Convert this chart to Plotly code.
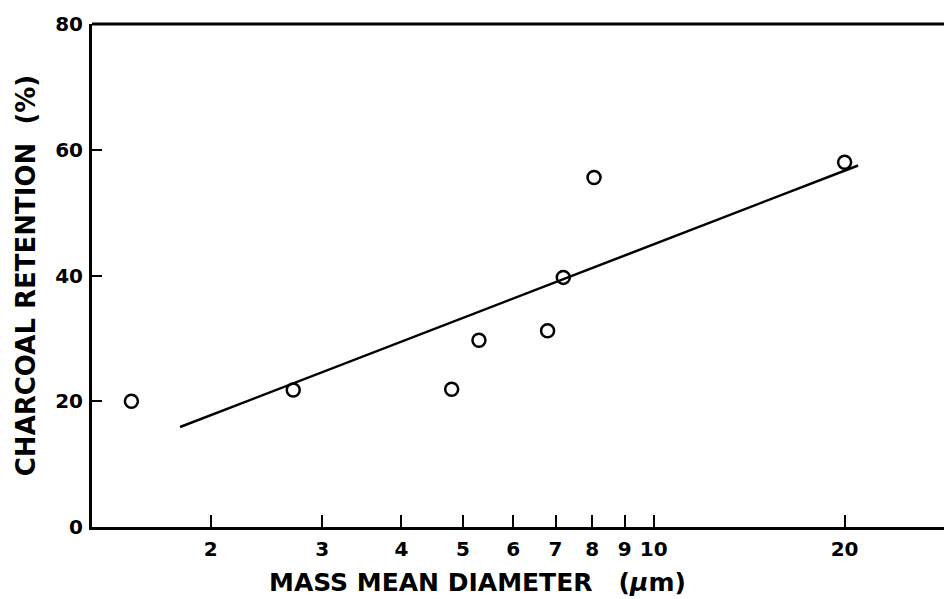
import plotly.graph_objects as go
import math

# Data
diameter_um = [1.5, 2.7, 4.8, 5.3, 6.8, 7.2, 8.05, 20.0]
retention_pct = [20.0, 21.8, 21.9, 29.7, 31.2, 39.7, 55.6, 58.0]

fit_x = [1.79, 21.0]
fit_y = [15.9, 57.5]

x_tickvals = [2, 3, 4, 5, 6, 7, 8, 9, 10, 20]
x_ticktext = ["2", "3", "4", "5", "6", "7", "8", "9", "10", "20"]
y_tickvals = [0, 20, 40, 60, 80]

x_title = "MASS MEAN DIAMETER   (<i>μ</i>m)"
y_title = "CHARCOAL RETENTION  (%)"

font_family = "DejaVu Sans, Liberation Sans, Arial, sans-serif"

FIG_W = 960  # plot area runs past the right edge of the 944 px view, as in the reference
LEFT = 92
PX_PER_DECADE = 634
x_lo = math.log10(1.3)
x_hi = x_lo + (FIG_W - LEFT) / PX_PER_DECADE

fig = go.Figure()
fig.add_trace(go.Scatter(
    x=fit_x, y=fit_y, mode="lines",
    line=dict(color="black", width=2.5),
    showlegend=False, hoverinfo="skip"))
fig.add_trace(go.Scatter(
    x=diameter_um, y=retention_pct, mode="markers",
    marker=dict(symbol="circle-open", size=13, color="black",
                line=dict(color="black", width=2.5)),
    showlegend=False))

fig.update_layout(
    width=FIG_W, height=599,
    margin=dict(l=LEFT, r=0, t=24, b=72),
    paper_bgcolor="white", plot_bgcolor="white",
    font=dict(family=font_family, color="black", size=20, weight="bold"),
    xaxis=dict(
        type="log",
        range=[x_lo, x_hi],
        tickvals=x_tickvals, ticktext=x_ticktext,
        ticks="inside", ticklen=12, tickwidth=2, tickcolor="black",
        showline=True, linecolor="black", linewidth=3,
        showgrid=False, zeroline=False, automargin=False,
        tickfont=dict(family=font_family, size=20, weight="bold"),
        ticklabelstandoff=2,
    ),
    yaxis=dict(
        range=[0, 80],
        tickvals=y_tickvals,
        ticks="inside", ticklen=10, tickwidth=2, tickcolor="black",
        showline=True, linecolor="black", linewidth=3,
        showgrid=False, zeroline=False, automargin=False,
        tickfont=dict(family=font_family, size=20, weight="bold"),
        ticklabelstandoff=2,
        title=dict(text=y_title,
                   font=dict(family=font_family, size=26, weight="bold"),
                   standoff=13),
    ),
    annotations=[dict(
        text=x_title, xref="paper", yref="paper",
        x=(477 - LEFT) / (FIG_W - LEFT), y=0, xanchor="center", yanchor="middle",
        yshift=-55, showarrow=False,
        font=dict(family=font_family, size=25, weight="bold", color="black"),
    )],
    shapes=[dict(type="line", xref="paper", yref="paper",
                 x0=0, x1=1, y0=1, y1=1,
                 line=dict(color="black", width=3))],
)

fig.write_html("out.html",
               config={"displayModeBar": False},
               post_script="document.body.style.margin='0';"
                           "document.body.style.overflow='hidden';")
